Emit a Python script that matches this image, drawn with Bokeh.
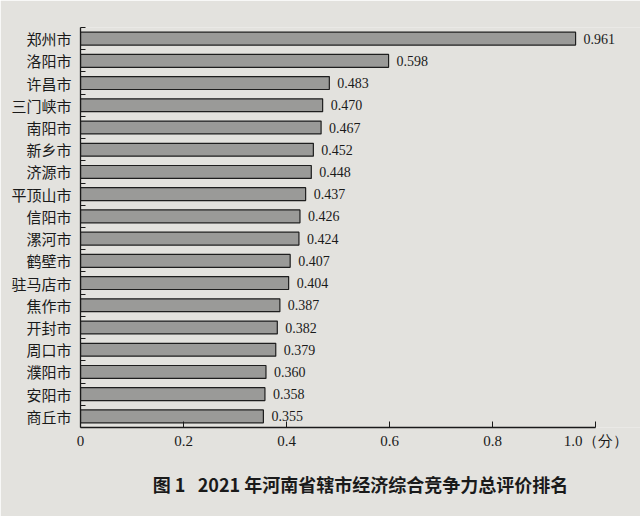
from bokeh.plotting import figure
from bokeh.models import ColumnDataSource, Range1d, FixedTicker, Title
from bokeh.embed import file_html
from bokeh.resources import INLINE

# 2021 年河南省辖市经济综合竞争力总评价
cities = ["郑州市", "洛阳市", "许昌市", "三门峡市", "南阳市", "新乡市", "济源市",
          "平顶山市", "信阳市", "漯河市", "鹤壁市", "驻马店市", "焦作市", "开封市",
          "周口市", "濮阳市", "安阳市", "商丘市"]
scores = [0.961, 0.598, 0.483, 0.470, 0.467, 0.452, 0.448, 0.437, 0.426, 0.424,
          0.407, 0.404, 0.387, 0.382, 0.379, 0.360, 0.358, 0.355]
x_ticks = [0, 0.2, 0.4, 0.6, 0.8, 1.0]
x_tick_labels = ["0", "0.2", "0.4", "0.6", "0.8", "1.0（分）"]

n = len(cities)
pos = [n - 1 - i for i in range(n)]
src = ColumnDataSource(dict(
    city=cities, score=scores, y=pos,
    label=["%.3f" % s for s in scores],
))

paper = "#e3e2de"
serif = "Liberation Serif"
cjk = "Noto Sans CJK SC"

# x range runs past 1.0 so labels have room; the axis itself stops at 1.0
p = figure(width=640, height=516, output_backend="svg", toolbar_location=None,
           x_range=Range1d(0, 1.087), y_range=Range1d(-0.5, n - 0.5),
           min_border_left=80, min_border_right=0, min_border_top=27,
           min_border_bottom=89)
p.background_fill_color = paper
p.border_fill_color = paper
p.outline_line_color = None
p.grid.visible = False

p.hbar(y="y", right="score", left=0, height=0.58, source=src,
       fill_color="#9a9a98", line_color="#1e1e1e", line_width=1.2)
p.text(x="score", y="y", text="label", source=src, x_offset=8,
       text_baseline="middle", text_align="left", text_font_size="14px",
       text_font=serif, text_color="#1a1a1a")

# y axis: city names at bar centres, small inward ticks at slot tops
p.yaxis.ticker = FixedTicker(ticks=pos, minor_ticks=[v + 0.5 for v in pos])
p.yaxis.major_label_overrides = {v: c for v, c in zip(pos, cities)}
p.yaxis.major_tick_in = 0
p.yaxis.major_tick_out = 0
p.yaxis.minor_tick_in = 5
p.yaxis.minor_tick_out = 0
p.yaxis.minor_tick_line_color = "#1a1a1a"
p.yaxis.axis_line_color = "#1a1a1a"
p.yaxis.axis_line_width = 1.3
p.yaxis.major_label_text_font = cjk
p.yaxis.major_label_text_font_size = "15px"
p.yaxis.major_label_text_color = "#1a1a1a"
p.yaxis.major_label_standoff = 9

p.xaxis.ticker = FixedTicker(ticks=x_ticks)
p.xaxis.bounds = (0, 1.0)
p.xaxis.major_label_overrides = {t: l for t, l in zip(x_ticks, x_tick_labels)}
p.xaxis.major_tick_in = 6
p.xaxis.major_tick_out = 0
p.xaxis.minor_tick_line_color = None
p.xaxis.major_tick_line_color = "#1a1a1a"
p.xaxis.axis_line_color = "#1a1a1a"
p.xaxis.axis_line_width = 1.3
p.xaxis.major_label_text_font = serif
p.xaxis.major_label_text_font_size = "15px"
p.xaxis.major_label_text_color = "#1a1a1a"
p.xaxis.major_label_standoff = 5

cap = Title(text="图 1\u00a0\u00a0\u00a02021 年河南省辖市经济综合竞争力总评价排名",
            align="center", offset=-33, text_font=cjk, text_font_size="18px",
            text_font_style="bold", text_color="#1a1a1a", standoff=34)
p.add_layout(cap, "below")

open("out.html", "w").write(file_html(p, INLINE))
